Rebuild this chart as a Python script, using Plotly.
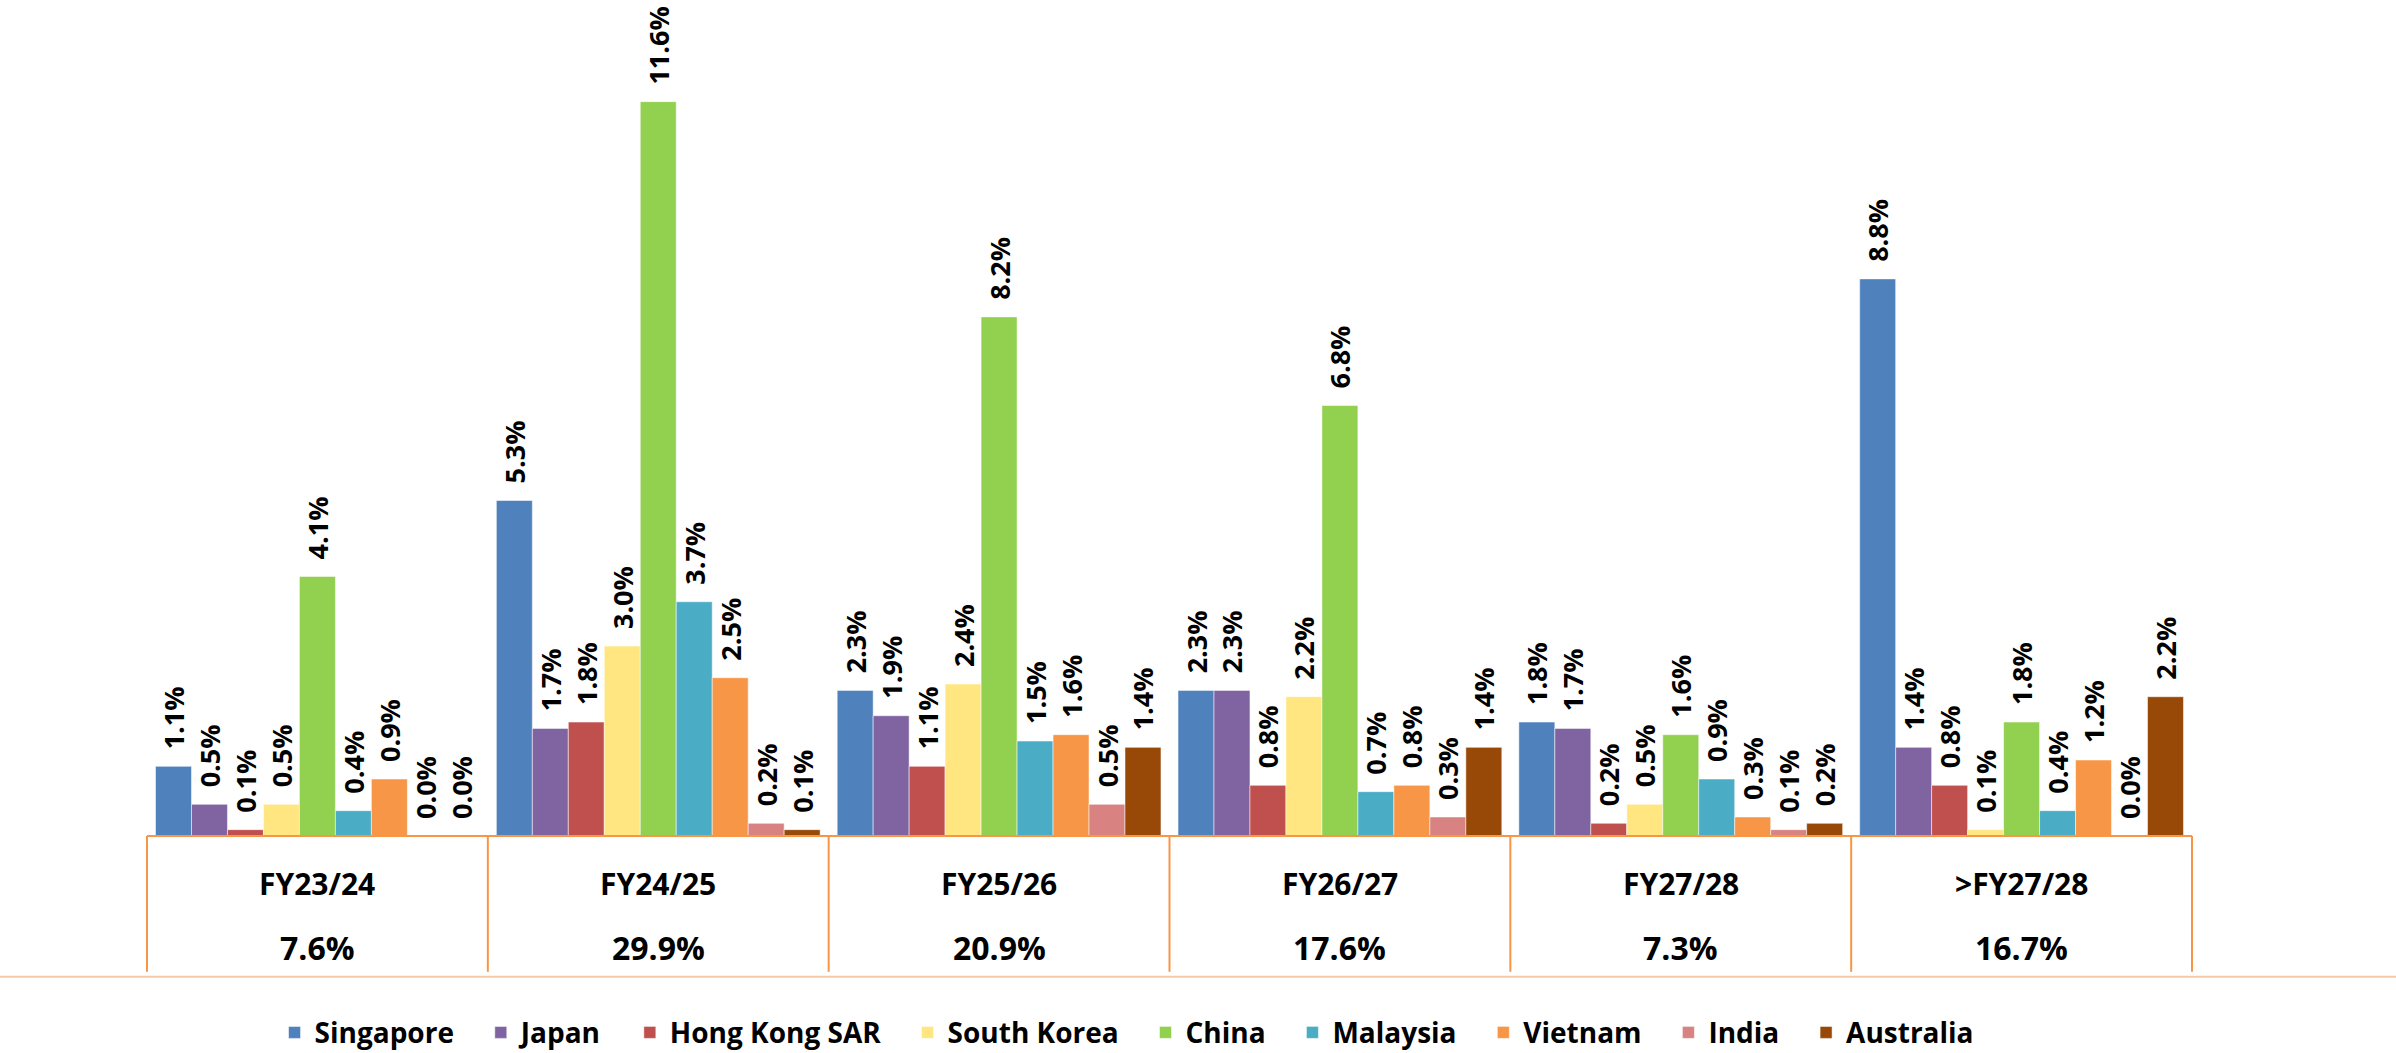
import plotly.graph_objects as go

categories = ["FY23/24", "FY24/25", "FY25/26", "FY26/27", "FY27/28", ">FY27/28"]
totals = [7.6, 29.9, 20.9, 17.6, 7.3, 16.7]

series_names = ["Singapore", "Japan", "Hong Kong SAR", "South Korea", "China",
                "Malaysia", "Vietnam", "India", "Australia"]
singapore = [1.1, 5.3, 2.3, 2.3, 1.8, 8.8]
japan = [0.5, 1.7, 1.9, 2.3, 1.7, 1.4]
hong_kong = [0.1, 1.8, 1.1, 0.8, 0.2, 0.8]
south_korea = [0.5, 3.0, 2.4, 2.2, 0.5, 0.1]
china = [4.1, 11.6, 8.2, 6.8, 1.6, 1.8]
malaysia = [0.4, 3.7, 1.5, 0.7, 0.9, 0.4]
vietnam = [0.9, 2.5, 1.6, 0.8, 0.3, 1.2]
india = [0.0, 0.2, 0.5, 0.3, 0.1, 0.0]
australia = [0.0, 0.1, 1.4, 1.4, 0.2, 2.2]
series_values = [singapore, japan, hong_kong, south_korea, china,
                 malaysia, vietnam, india, australia]
colors = ["#4F81BD", "#8064A2", "#C0504D", "#FFE680", "#92D050",
          "#4BACC6", "#F79646", "#D98282", "#984807"]

FONT = "Open Sans, Noto Sans, DejaVu Sans, sans-serif"

fig = go.Figure()
for i, (name, vals, col) in enumerate(zip(series_names, series_values, colors)):
    pad = "\u00a0\u00a0\u00a0" if i < len(series_names) - 1 else ""
    fig.add_trace(go.Bar(
        name=name + pad, x=categories, y=vals,
        marker=dict(color=col, line=dict(color="rgba(255,255,255,0.5)", width=1)),
        texttemplate="\u00a0\u00a0<b>%{y:.1f}%</b>",
        textposition="outside", textangle=-90, constraintext="none",
        textfont=dict(family=FONT, size=27, color="black"),
        cliponaxis=False,
        hoverinfo="skip",
    ))

n = len(categories)
shapes = []
box_color = "#F79646"
bottom_y = -0.171
# top line of table
shapes.append(dict(type="line", xref="paper", yref="paper", x0=0, x1=1, y0=0, y1=0,
                   line=dict(color=box_color, width=2)))
# vertical separators
for i in range(n + 1):
    shapes.append(dict(type="line", xref="paper", yref="paper", x0=i / n, x1=i / n,
                       y0=0, y1=bottom_y + 0.006, line=dict(color=box_color, width=2)))
# full-width bottom line
shapes.append(dict(type="line", xref="paper", yref="paper", x0=-0.08, x1=1.11,
                   y0=bottom_y, y1=bottom_y, line=dict(color="#F8C9A4", width=2)))

annotations = []
for i, (c, t) in enumerate(zip(categories, totals)):
    annotations.append(dict(x=(i + 0.5) / n, y=-0.058, xref="paper", yref="paper",
                            text=f"<b>{c.replace('>', '&gt;')}</b>", showarrow=False,
                            font=dict(family=FONT, size=30, color="black"),
                            xanchor="center", yanchor="middle"))
    annotations.append(dict(x=(i + 0.5) / n, y=-0.135, xref="paper", yref="paper",
                            text=f"<b>{t:.1f}%</b>", showarrow=False,
                            font=dict(family=FONT, size=32, color="black"),
                            xanchor="center", yanchor="middle"))

fig.update_layout(
    width=2396, height=1053,
    margin=dict(l=147, r=204, t=13, b=217, autoexpand=False),
    paper_bgcolor="white", plot_bgcolor="white",
    barmode="group", bargap=0.05, bargroupgap=0,
    xaxis=dict(showticklabels=False, showgrid=False, zeroline=False, showline=False,
               ticks="", range=[-0.5, n - 0.5]),
    yaxis=dict(visible=False, range=[0, 13.0]),
    showlegend=True,
    legend=dict(orientation="h", xref="paper", yref="paper", x=0.479, y=-0.239,
                xanchor="center", yanchor="middle",
                font=dict(family=FONT, size=28, color="black", weight="bold"),
                itemclick=False, itemdoubleclick=False, traceorder="normal"),
    shapes=shapes, annotations=annotations,
)

fig.write_html("out.html", post_script="document.body.style.margin='0';",
               config={"displayModeBar": False})
